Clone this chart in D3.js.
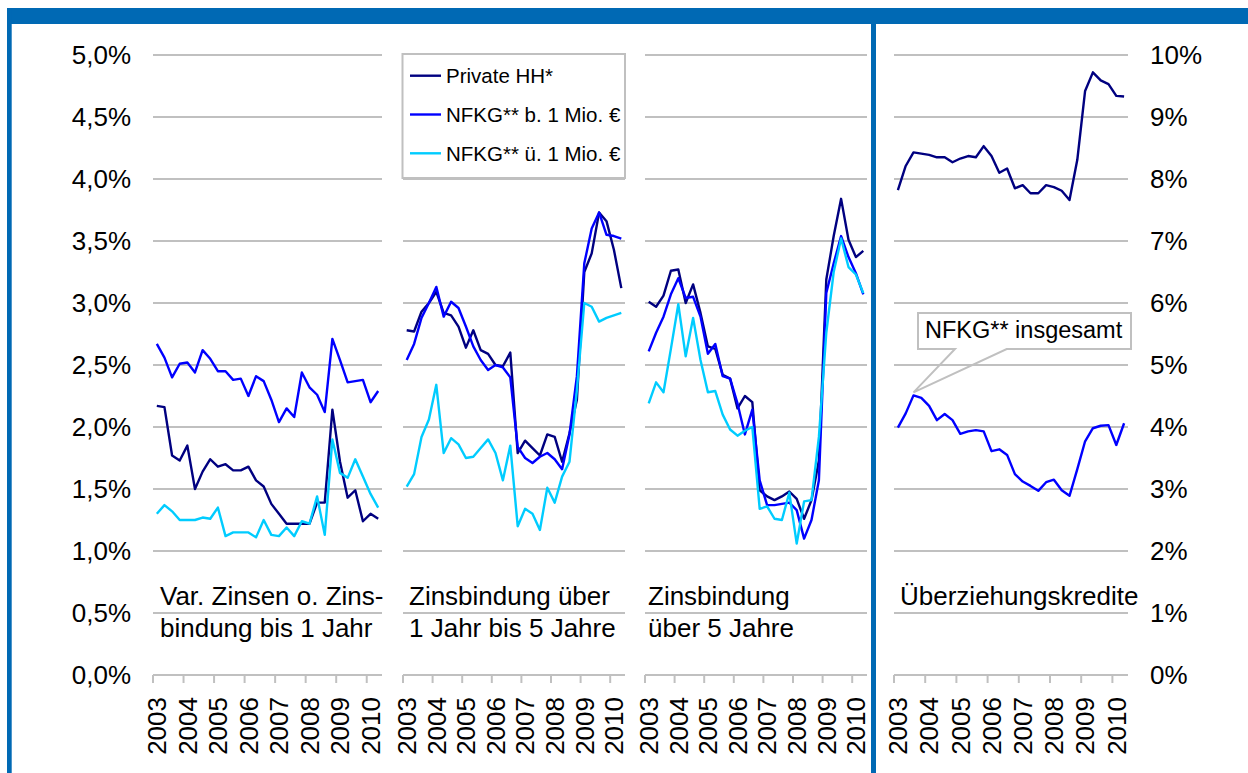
<!DOCTYPE html>
<html><head><meta charset="utf-8">
<script src="https://cdn.jsdelivr.net/npm/d3@7"></script>
<style>
html,body{margin:0;padding:0;background:#fff;}
svg{display:block;font-family:"Liberation Sans",Arial,sans-serif;}
</style></head>
<body>
<svg id="chart" width="1248" height="773"></svg>
<script>
// ---------- DATA ----------
const years = ["2003","2004","2005","2006","2007","2008","2009","2010"];
const quarters = ["2003Q1","2003Q2","2003Q3","2003Q4","2004Q1","2004Q2","2004Q3","2004Q4",
  "2005Q1","2005Q2","2005Q3","2005Q4","2006Q1","2006Q2","2006Q3","2006Q4",
  "2007Q1","2007Q2","2007Q3","2007Q4","2008Q1","2008Q2","2008Q3","2008Q4",
  "2009Q1","2009Q2","2009Q3","2009Q4","2010Q1","2010Q2"];
const seriesNames = ["Private HH*","NFKG** b. 1 Mio. \u20AC","NFKG** \u00FC. 1 Mio. \u20AC"];
const panelTitles = [
  ["Var. Zinsen o. Zins-","bindung bis 1 Jahr"],
  ["Zinsbindung \u00FCber","1 Jahr bis 5 Jahre"],
  ["Zinsbindung","\u00FCber 5 Jahre"],
  ["\u00DCberziehungskredite"]
];
const leftTicks = [0,0.5,1,1.5,2,2.5,3,3.5,4,4.5,5];
const rightTicks = [0,1,2,3,4,5,6,7,8,9,10];
const calloutLabel = "NFKG** insgesamt";

// Panel 1: variable / up to 1 year
const p1Private = [2.17,2.16,1.77,1.73,1.85,1.50,1.64,1.74,1.68,1.70,1.65,1.65,1.68,1.57,1.52,1.38,1.30,1.22,1.22,1.22,1.22,1.39,1.39,2.14,1.72,1.43,1.49,1.24,1.30,1.26];
const p1Small   = [2.67,2.56,2.40,2.51,2.52,2.44,2.62,2.55,2.45,2.45,2.38,2.39,2.25,2.41,2.37,2.22,2.04,2.15,2.08,2.44,2.32,2.26,2.12,2.71,2.54,2.36,2.37,2.38,2.20,2.29];
const p1Large   = [1.30,1.37,1.32,1.25,1.25,1.25,1.27,1.26,1.35,1.12,1.15,1.15,1.15,1.11,1.25,1.13,1.12,1.19,1.12,1.24,1.22,1.44,1.13,1.90,1.63,1.59,1.74,1.60,1.46,1.35];
// Panel 2: 1 to 5 years
const p2Private = [2.78,2.77,2.93,3.00,3.09,2.92,2.90,2.81,2.64,2.78,2.62,2.59,2.50,2.49,2.60,1.79,1.89,1.83,1.77,1.94,1.92,1.72,1.95,2.22,3.25,3.40,3.73,3.66,3.43,3.12];
const p2Small   = [2.54,2.67,2.88,3.00,3.13,2.89,3.01,2.96,2.81,2.65,2.54,2.46,2.50,2.48,2.40,1.84,1.75,1.71,1.76,1.79,1.74,1.66,1.94,2.41,3.32,3.60,3.73,3.55,3.54,3.52];
const p2Large   = [1.52,1.62,1.92,2.06,2.34,1.79,1.91,1.86,1.75,1.76,1.83,1.90,1.79,1.57,1.85,1.20,1.34,1.30,1.17,1.51,1.39,1.60,1.72,2.30,3.00,2.97,2.85,2.88,2.90,2.92];
// Panel 3: over 5 years
const p3Private = [3.01,2.97,3.06,3.26,3.27,3.00,3.15,2.92,2.65,2.63,2.42,2.39,2.15,2.25,2.20,1.49,1.44,1.41,1.44,1.48,1.42,1.26,1.41,1.73,3.19,3.54,3.84,3.51,3.37,3.42];
const p3Small   = [2.61,2.76,2.89,3.07,3.20,3.04,3.05,2.89,2.59,2.67,2.41,2.39,2.19,1.94,2.14,1.57,1.37,1.37,1.38,1.39,1.33,1.10,1.25,1.57,3.08,3.32,3.54,3.37,3.24,3.07];
const p3Large   = [2.19,2.36,2.28,2.63,2.99,2.57,2.88,2.54,2.28,2.29,2.10,1.98,1.93,1.97,2.00,1.34,1.36,1.26,1.25,1.47,1.06,1.40,1.41,1.92,2.76,3.25,3.52,3.29,3.23,3.08];
// Panel 4: overdrafts (right axis)
const p4Private = [7.82,8.21,8.43,8.41,8.39,8.35,8.35,8.27,8.33,8.37,8.35,8.53,8.37,8.10,8.17,7.85,7.90,7.77,7.77,7.90,7.87,7.81,7.66,8.31,9.42,9.72,9.59,9.53,9.34,9.33];
const p4Total   = [3.99,4.22,4.51,4.47,4.34,4.11,4.21,4.11,3.89,3.93,3.95,3.93,3.61,3.64,3.55,3.24,3.12,3.05,2.97,3.11,3.15,2.98,2.89,3.32,3.77,3.98,4.02,4.03,3.71,4.06];

// ---------- STYLE / LAYOUT ----------
const colors = ["#000080","#0000ff","#00ccff"];
const frameBlue = "#0069b4";
const gridColor = "#c0c0c0";
const svg = d3.select("#chart");

const yL = d3.scaleLinear().domain([0,5]).range([675,55]);
const yR = d3.scaleLinear().domain([0,10]).range([675,55]);

const panels = [
  {x0:153, x1:382,   y:yL, ticks:leftTicks,  series:[p1Private,p1Small,p1Large], colors:colors},
  {x0:403, x1:625,   y:yL, ticks:leftTicks,  series:[p2Private,p2Small,p2Large], colors:colors},
  {x0:645, x1:867,   y:yL, ticks:leftTicks,  series:[p3Private,p3Small,p3Large], colors:colors},
  {x0:894, x1:1128,  y:yR, ticks:rightTicks, series:[p4Private,p4Total], colors:[colors[0],colors[1]]}
];

const locale = d3.formatLocale({decimal:",", thousands:".", grouping:[3], currency:["","€"]});
const fmtL = d => locale.format(".1f")(d) + "%";
const fmtR = d => d3.format("d")(d) + "%";

// frame
svg.append("rect").attr("x",8).attr("y",8).attr("width",1240).attr("height",16).attr("fill",frameBlue);
svg.append("rect").attr("x",7).attr("y",8).attr("width",4.7).attr("height",765).attr("fill",frameBlue);
svg.append("rect").attr("x",871).attr("y",24).attr("width",5).attr("height",749).attr("fill",frameBlue);

panels.forEach((p,pi) => {
  const x = d3.scaleBand().domain(quarters).range([p.x0,p.x1]).padding(0);
  const cx = q => x(q) + x.bandwidth()/2;
  const g = svg.append("g");
  // gridlines
  g.selectAll("line.grid").data(p.ticks).join("line")
    .attr("x1",p.x0).attr("x2",p.x1)
    .attr("y1",d=>p.y(d)).attr("y2",d=>p.y(d))
    .attr("stroke",gridColor).attr("stroke-width",2);
  // tick marks at year starts
  g.selectAll("line.tick").data(years).join("line")
    .attr("x1",d=>x(d+"Q1")).attr("x2",d=>x(d+"Q1"))
    .attr("y1",p.y(0)).attr("y2",p.y(0)+8)
    .attr("stroke",gridColor).attr("stroke-width",2);
  // year labels
  g.selectAll("text.year").data(years).join("text")
    .attr("transform",d=>`translate(${cx(d+"Q1")},697) rotate(-90)`)
    .attr("text-anchor","end").attr("dy","0.36em")
    .attr("font-size",26).attr("fill","#000").text(d=>d);
  // titles
  const tx = [160,409,648,900][pi];
  panelTitles[pi].forEach((t,i) => {
    g.append("text").attr("x",tx).attr("y",605 + i*32)
      .attr("font-size",26).attr("fill","#000").text(t);
  });
  // lines
  p.series.forEach((s,si) => {
    const line = d3.line().x((d,i)=>cx(quarters[i])).y(d=>p.y(d));
    g.append("path").datum(s).attr("d",line)
      .attr("fill","none").attr("stroke",p.colors[si])
      .attr("stroke-width",2.4).attr("stroke-linejoin","round");
  });
  if (pi === 3) {
    // callout
    const tipX = cx(quarters[2]), tipY = p.y(p4Total[2]) - 3;
    const bx0 = 918, bx1 = 1131, by0 = 313, by1 = 349;
    g.append("path")
      .attr("d",`M${bx0},${by0}H${bx1}V${by1}H1006.7L${tipX},${tipY}L955,${by1}H${bx0}Z`)
      .attr("fill","none").attr("stroke",gridColor).attr("stroke-width",2);
    g.append("text").attr("x",925).attr("y",338).attr("font-size",23.5)
      .attr("fill","#000").text(calloutLabel);
  }
});

// left axis labels
svg.selectAll("text.yl").data(leftTicks).join("text")
  .attr("x",131).attr("y",d=>yL(d)).attr("dy","0.36em")
  .attr("text-anchor","end").attr("font-size",26).attr("fill","#000").text(fmtL);
// right axis labels
svg.selectAll("text.yr").data(rightTicks).join("text")
  .attr("x",1150).attr("y",d=>yR(d)).attr("dy","0.36em")
  .attr("text-anchor","start").attr("font-size",26).attr("fill","#000").text(fmtR);

// legend
const lg = svg.append("g");
lg.append("rect").attr("x",402.5).attr("y",54).attr("width",222.5).attr("height",124)
  .attr("fill","#fff").attr("stroke",gridColor).attr("stroke-width",2);
seriesNames.forEach((n,i) => {
  const ly = 75.7 + i*38.8;
  lg.append("line").attr("x1",410).attr("x2",441).attr("y1",ly).attr("y2",ly)
    .attr("stroke",colors[i]).attr("stroke-width",2.4);
  lg.append("text").attr("x",446).attr("y",ly).attr("dy","0.36em")
    .attr("font-size",20.5).attr("fill","#000").text(n);
});
</script>
</body></html>
